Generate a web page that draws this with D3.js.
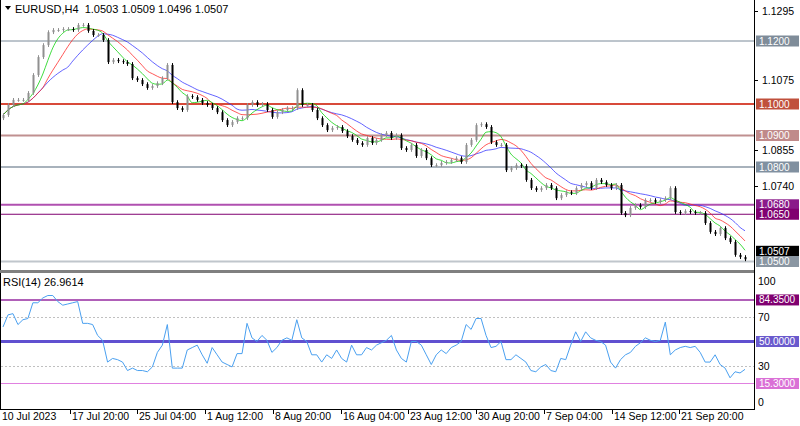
<!DOCTYPE html>
<html><head><meta charset="utf-8">
<script src="https://cdn.jsdelivr.net/npm/d3@7/dist/d3.min.js"></script>
<style>body{margin:0;background:#fff}svg{display:block;font-family:"Liberation Sans",Arial,sans-serif}</style>
</head><body><svg id="c" width="800" height="426"></svg>
<script>
const closes=[1.0965,1.0997,1.1013,1.1013,1.1013,1.1035,1.1092,1.1149,1.1187,1.1228,1.1235,1.1235,1.1238,1.1238,1.1235,1.1251,1.1251,1.1232,1.1219,1.1219,
1.1203,1.1133,1.1140,1.1136,1.1133,1.1127,1.1082,1.1076,1.1063,1.1051,1.1057,1.1066,1.1082,1.1124,1.1006,1.0987,1.0981,1.1025,1.1022,1.1013,
1.1003,1.0997,1.0987,1.0974,1.0949,1.0933,1.0943,1.0955,1.0955,1.0997,1.1006,1.0997,1.1000,1.0981,1.0959,1.0974,1.0981,1.0987,1.0987,1.1044,
1.0997,1.0997,1.0981,1.0955,1.0933,1.0917,1.0924,1.0927,1.0914,1.0898,1.0886,1.0876,1.0870,1.0892,1.0876,1.0886,1.0901,1.0908,1.0892,1.0901,
1.0860,1.0854,1.0870,1.0835,1.0854,1.0828,1.0806,1.0806,1.0813,1.0816,1.0822,1.0828,1.0816,1.0870,1.0886,1.0933,1.0936,1.0927,1.0879,1.0870,
1.0870,1.0790,1.0797,1.0806,1.0803,1.0759,1.0733,1.0727,1.0733,1.0743,1.0733,1.0701,1.0711,1.0720,1.0717,1.0733,1.0743,1.0749,1.0733,1.0759,
1.0752,1.0743,1.0733,1.0743,1.0654,1.0647,1.0670,1.0679,1.0673,1.0695,1.0695,1.0689,1.0695,1.0701,1.0733,1.0657,1.0654,1.0660,1.0657,1.0654,
1.0654,1.0622,1.0594,1.0587,1.0606,1.0574,1.0562,1.0521,1.0514,1.0507];
const rsi=[62,72,73,64,68,69,82,82,86,88,88,83,80,81,82,83,65,65,64,55,51,33,36,35,33,26,28,26,26,25,29,41,47,64,28,28,28,43,45,47,
39,32,45,39,33,31,29,40,40,65,53,50,55,51,41,45,51,53,51,68,53,50,39,39,33,39,36,43,36,33,47,39,39,45,43,47,49,51,55,43,
36,33,50,50,47,39,31,39,43,40,45,47,50,64,60,69,69,55,45,46,50,35,35,39,36,33,26,25,29,31,26,25,36,35,47,58,50,58,53,51,
50,47,33,28,35,39,41,46,49,53,51,50,51,66,39,43,45,46,45,46,41,33,33,39,31,28,20,25,24,27];
const timeLabels=["10 Jul 2023","17 Jul 20:00","25 Jul 04:00","1 Aug 12:00","8 Aug 20:00","16 Aug 04:00","23 Aug 12:00","30 Aug 20:00","7 Sep 04:00","14 Sep 12:00","21 Sep 20:00"];
const timeIdx=[0,13.6,27.2,40.8,54.4,68,81.6,95.2,108.8,122.4,136];
const priceTicks=[1.1295,1.1075,1.0855,1.0740];
const maPeriods=[14,9,5];
const maColors=["#3030ff","#ff2020","#00d000"];
const levels=[{v:1.1200,c:"#7a8a99",w:1,b:"#7f8c99"},{v:1.1000,c:"#d84a3a",w:2,b:"#c0503c"},{v:1.0900,c:"#c09090",w:2,b:"#c08a8a"},
{v:1.0800,c:"#a8b2bc",w:2,b:"#8090a0"},{v:1.0680,c:"#b050b0",w:2,b:"#8a1a8a"},{v:1.0650,c:"#800070",w:1,b:"#800070"},{v:1.0500,c:"#c0c6cc",w:2,b:"#8a96a2"}];
const rsiLevels=[{v:84.35,c:"#b060b8",w:2,b:"#800070",t:"84.3500"},{v:50,c:"#6050d0",w:3,b:"#6a5acd",t:"50.0000"},{v:15.3,c:"#e080e0",w:1,b:"#da70d6",t:"15.3000"}];

const svg=d3.select("#c");
const x=d3.scaleLinear().domain([0,closes.length-1]).range([3,745]);
const y=d3.scaleLinear().domain([1.05,1.12]).range([261.5,41]);
const yr=d3.scaleLinear().domain([0,100]).range([402,281]);
const R=754;
svg.append("line").attr("x1",R+.5).attr("x2",R+.5).attr("y1",0).attr("y2",410).attr("stroke","#000");
svg.append("line").attr("x1",.5).attr("x2",.5).attr("y1",0).attr("y2",410).attr("stroke","#000");
svg.append("rect").attr("x",0).attr("y",270).attr("width",R).attr("height",3).attr("fill","#808080");
svg.append("line").attr("x1",0).attr("x2",R).attr("y1",409.5).attr("y2",409.5).attr("stroke","#000");
levels.forEach(l=>svg.append("line").attr("x1",1).attr("x2",R).attr("y1",y(l.v)).attr("y2",y(l.v)).attr("stroke",l.c).attr("stroke-width",l.w));
[70,30].forEach(v=>svg.append("line").attr("x1",1).attr("x2",R).attr("y1",Math.round(yr(v))+.5).attr("y2",Math.round(yr(v))+.5).attr("stroke","#c0c0c0").attr("stroke-dasharray","2,2"));
rsiLevels.forEach(l=>svg.append("line").attr("x1",1).attr("x2",R).attr("y1",yr(l.v)).attr("y2",yr(l.v)).attr("stroke",l.c).attr("stroke-width",l.w));
function sma(p){return closes.map((d,i)=>d3.mean(closes.slice(Math.max(0,i-p+1),i+1)));}
const line=d3.line().x((d,i)=>x(i)).y(d=>y(d)).curve(d3.curveMonotoneX);
maPeriods.forEach((p,k)=>svg.append("path").attr("d",line(sma(p))).attr("fill","none").attr("stroke",maColors[k]).attr("stroke-width",1).attr("opacity",.75));
const g=svg.append("g");
closes.forEach((c,i)=>{
 const o=i?closes[i-1]:c-0.001;const hi=Math.max(o,c)+0.0006,lo=Math.min(o,c)-0.0006;
 const col=c>=o?"#909090":"#000";const xx=Math.round(x(i))+.5;
 g.append("line").attr("x1",xx).attr("x2",xx).attr("y1",y(hi)).attr("y2",y(lo)).attr("stroke",col);
 g.append("rect").attr("x",xx-1).attr("width",2).attr("y",y(Math.max(o,c))).attr("height",Math.max(1,y(Math.min(o,c))-y(Math.max(o,c)))).attr("fill",col);
});
svg.append("path").attr("d",d3.line().x((d,i)=>x(i)).y(d=>yr(d))(rsi)).attr("fill","none").attr("stroke","#4aa0f0").attr("stroke-width",1);
const ax=svg.append("g").attr("font-size",10.5);
priceTicks.forEach(v=>{ax.append("line").attr("x1",R).attr("x2",R+4).attr("y1",Math.round(y(v))+.5).attr("y2",Math.round(y(v))+.5).attr("stroke","#000");
 ax.append("text").attr("x",762).attr("y",y(v)+4).text(v.toFixed(4));});
[100,70,30,0].forEach(v=>{ax.append("text").attr("x",758).attr("y",yr(v)+4).text(v);});
function box(yy,bg,t){ax.append("rect").attr("x",R+2).attr("y",yy-5.5).attr("width",43).attr("height",11).attr("fill",bg);
 ax.append("text").attr("x",R+5).attr("y",yy+3.5).attr("font-size",10).attr("fill","#fff").text(t);}
box(y(1.0507)-8,"#000","1.0507");
levels.forEach(l=>box(y(l.v),l.b,l.v.toFixed(4)));
rsiLevels.forEach(l=>box(yr(l.v),l.b,l.t));
timeLabels.forEach((t,i)=>{const xx=Math.round(x(timeIdx[i]))-1;
 if(i) ax.append("line").attr("x1",xx+.5).attr("x2",xx+.5).attr("y1",409).attr("y2",414).attr("stroke","#000");
 ax.append("text").attr("x",i?xx+2:2).attr("y",420).text(t);});
svg.append("path").attr("d","M5,6 L11,6 L8,10 Z").attr("fill","#000");
svg.append("text").attr("x",15).attr("y",13).attr("font-size",11).style("white-space","pre").text("EURUSD,H4  1.0503 1.0509 1.0496 1.0507");
svg.append("text").attr("x",3).attr("y",286).attr("font-size",11).text("RSI(14) 26.9614");
</script></body></html>
